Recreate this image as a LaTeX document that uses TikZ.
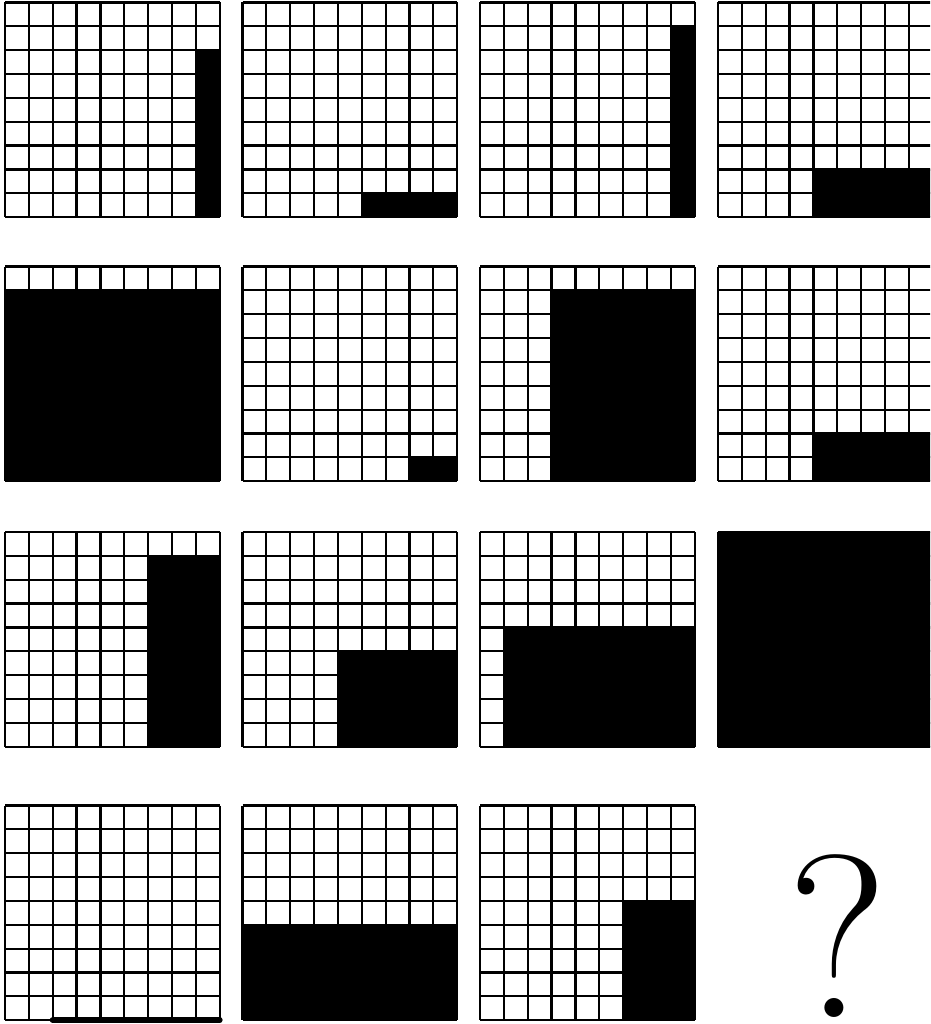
\documentclass[tikz,border=0pt]{standalone}
\newcommand\cs{23.85}
\tikzset{
  gridline/.style={line width=2.2pt, black},
  blk/.style={fill=black},
  baseline line/.style={line width=6pt, line cap=round, black}
}
% #1,#2: top-left; #3,#4: first black col,row (0-based); #5,#6: black width,height in cells
\newcommand\gpanel[6]{%
  \begin{scope}[shift={(#1,#2)}]
    \foreach \i in {0,...,9}{%
      \draw[gridline] (\i*\cs,0) -- (\i*\cs,9*\cs);
      \draw[gridline] (0,\i*\cs) -- (9*\cs,\i*\cs);
    }
    \fill[blk] (#3*\cs,#4*\cs) rectangle ++(#5*\cs,#6*\cs);
  \end{scope}}
\begin{document}
\begin{tikzpicture}[x=1pt,y=-1pt]
\clip (0,0) rectangle (930,1024);
\useasboundingbox (0,0) rectangle (930,1024);
\fill[white] (0,0) rectangle (930,1024);
% row 1
\gpanel{5}{2.5}{8}{2}{1}{7}
\gpanel{242.5}{2.5}{5}{8}{4}{1}
\gpanel{480}{2.5}{8}{1}{1}{8}
\gpanel{718}{2.5}{4}{7}{5}{2}
% row 2
\gpanel{5}{266.5}{0}{1}{9}{8}
\gpanel{242.5}{266.5}{7}{8}{2}{1}
\gpanel{480}{266.5}{3}{1}{6}{8}
\gpanel{718}{266.5}{4}{7}{5}{2}
% row 3
\gpanel{5}{532}{6}{1}{3}{8}
\gpanel{242.5}{532}{4}{5}{5}{4}
\gpanel{480}{532}{1}{4}{8}{5}
\gpanel{718}{532}{0}{0}{9}{9}
% row 4
\gpanel{5}{805.5}{0}{0}{0}{0}
\coordinate (la) at (5+2*\cs,805.5+9*\cs);
\coordinate (lb) at (5+9*\cs,805.5+9*\cs);
\draw[baseline line] (la) -- (lb);
\gpanel{242.5}{805.5}{0}{5}{9}{4}
\gpanel{480}{805.5}{6}{4}{3}{5}
\node[font=\fontsize{232}{232}\selectfont, anchor=base, inner sep=0pt] (q) at (838,1017) {?};
\end{tikzpicture}
\end{document}
